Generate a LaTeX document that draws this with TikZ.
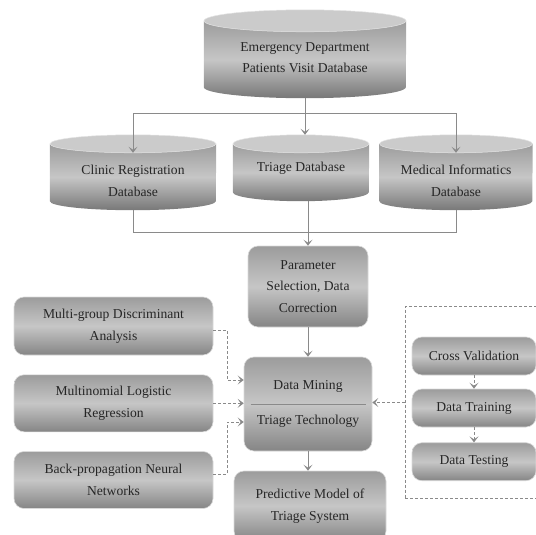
\documentclass[tikz,border=0pt]{standalone}
\usepackage{fontspec}
\setmainfont{Liberation Serif}
\usetikzlibrary{arrows.meta}
\definecolor{boxtop}{HTML}{9C9C9C}
\definecolor{boxmid}{HTML}{C6C6C6}
\definecolor{boxbot}{HTML}{858585}
\definecolor{cylcap}{HTML}{CBCBCB}
\definecolor{linegray}{HTML}{8A8A8A}
\definecolor{inkgray}{HTML}{262626}

\begin{document}
\begin{tikzpicture}[x=1pt,y=1pt,>={Stealth[length=6pt,width=9pt,inset=3pt]},
  every node/.style={font=\fontsize{13.6}{21.5}\selectfont,text=inkgray,align=center},
  procbox/.style={rounded corners=10pt,draw=gray!30,line width=0.6pt,inner sep=0pt,
    top color=boxtop,bottom color=boxbot,middle color=boxmid},
  cylbox/.style={inner sep=0pt},
  cylbody/.style={top color=boxtop,bottom color=boxbot!90!black,middle color=boxmid},
  conn/.style={draw=linegray,line width=0.9pt},
  dconn/.style={draw=linegray,line width=0.8pt,dash pattern=on 3pt off 2pt},
  groupbox/.style={dconn,inner sep=0pt}]
  \path[use as bounding box] (0,0) rectangle (536,-535);
  \clip (0,0) rectangle (536,-535);

  % database cylinders
  \foreach \db/\cx/\yt/\yb/\w/\ry in {edb/305/10/98/101/11,clinic/133/135/210/83/9,trg/301/135/201/68/9,med/456/135/210/76.5/9}{
    \node[cylbox,minimum width=2*\w,minimum height=\yb-\yt] (\db) at (\cx,{-(\yt+\yb)/2}) {};
    \shade[cylbody] ([yshift=-\ry]\db.north west) -- ([yshift=\ry]\db.south west)
      arc[start angle=180,end angle=360,x radius=\w,y radius=\ry] -- ([yshift=-\ry]\db.north east) -- cycle;
    \filldraw[fill=cylcap,draw=gray!20,line width=0.5pt] ([yshift=-\ry]\db.north) ellipse[x radius=\w,y radius=\ry];
  }
  \node (edbtext) at (305,-57.5) {Emergency Department\\Patients Visit Database};
  \node (clinictext) at (133,-181) {Clinic Registration\\Database};
  \node (trgtext) at (301,-168.5) {Triage Database};
  \node (medtext) at (456,-181) {Medical Informatics\\Database};

  \node[groupbox,minimum width=140,minimum height=192] (valid) at (475,-402.5) {};

  \node[procbox,minimum width=120,minimum height=81] (param) at (308,-286.5) {Parameter\\Selection, Data\\Correction};
  \node[procbox,minimum width=128,minimum height=94] (dm) at (308,-404) {Data Mining\\[13pt]Triage Technology};
  \node[procbox,minimum width=152,minimum height=70] (pred) at (310,-506) {Predictive Model of\\Triage System};

  \node[procbox,minimum width=199,minimum height=58] (mgda) at (113.5,-326) {Multi-group Discriminant\\Analysis};
  \node[procbox,minimum width=199,minimum height=57] (mlr) at (113.5,-403.3) {Multinomial Logistic\\Regression};
  \node[procbox,minimum width=199,minimum height=57] (bpnn) at (113.5,-480) {Back-propagation Neural\\Networks};

  \node[procbox,minimum width=124,minimum height=38] (cv) at (474,-356) {Cross Validation};
  \node[procbox,minimum width=124,minimum height=38] (dtrain) at (474,-408) {Data Training};
  \node[procbox,minimum width=124,minimum height=38] (dtest) at (474,-461.7) {Data Testing};

  \draw[linegray,line width=0.7pt] ([xshift=7]dm.west) -- ([xshift=-6]dm.east);

  \coordinate (split) at ([yshift=-15]edb.south);
  \draw[conn,->] (edb.south) -- (edb.south |- trg.north);
  \draw[conn,->] (split) -| ([yshift=-18]clinic.north);
  \draw[conn,->] (split) -| ([yshift=-18]med.north);
  \draw[conn] (clinic.south) -- ++(0,-22) -| (med.south);
  \draw[conn,->] (trg.south -| param.north) -- (param.north);
  \draw[conn,->] (param) -- (dm);
  \draw[conn,->] (dm.south) -- (dm.south |- pred.north);

  \draw[dconn,->] ([yshift=-4]mgda.east) -- ++(14,0) |- ([yshift=24]dm.west);
  \draw[dconn,->] (mlr.east) -- (mlr.east -| dm.west);
  \draw[dconn,->] ([yshift=6]bpnn.east) -- ++(14,0) |- ([yshift=-18]dm.west);
  \draw[dconn,->] (valid.west) -- (valid.west -| dm.east);
  \draw[dconn,->] (cv) -- (dtrain);
  \draw[dconn,->] (dtrain) -- (dtest);
\end{tikzpicture}
\end{document}
